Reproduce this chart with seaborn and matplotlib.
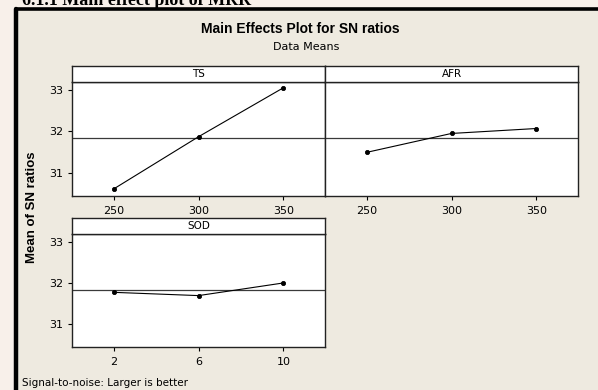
import matplotlib
matplotlib.use("Agg")
import matplotlib.pyplot as plt
from matplotlib.patches import Rectangle
import seaborn as sns

sns.set_style("white")
plt.rcParams["font.family"] = ["DejaVu Sans"]
plt.rcParams["text.color"] = "black"

# factor levels and mean S/N ratios
ts_levels = [250, 300, 350]
ts_sn = [30.60, 31.87, 33.06]
afr_levels = [250, 300, 350]
afr_sn = [31.49, 31.95, 32.07]
sod_levels = [2, 6, 10]
sod_sn = [31.77, 31.69, 32.00]

factors = ["TS", "AFR", "SOD"]
y_ticks = [31, 32, 33]
grand_mean = (sum(ts_sn) + sum(afr_sn) + sum(sod_sn)) / 9

W, H = 598, 390
bg = "#EEEAE0"

fig = plt.figure(figsize=(W / 100, H / 100), dpi=100)
fig.patch.set_facecolor("#f8f0ea")


def fx(px):
    return px / W


def fy(py):
    return 1 - py / H


# document frame (beige with black top/left border)
fig.patches.append(Rectangle((fx(15), 0), 1, fy(8.5), transform=fig.transFigure,
                             facecolor=bg, edgecolor="none", zorder=-5))
fig.add_artist(plt.Line2D([fx(15.5), 1], [fy(8.5), fy(8.5)], color="black",
                          lw=2.6, transform=fig.transFigure, zorder=-4))
fig.add_artist(plt.Line2D([fx(15.5), fx(15.5)], [0, fy(8.5)], color="black",
                          lw=3.2, transform=fig.transFigure, zorder=-4))

# heading of the document, mostly cut off at top
fig.text(fx(22), fy(5), "6.1.1 Main effect plot of MRR", family="Liberation Serif",
         weight="bold", fontsize=13, va="baseline", ha="left")

# panel boxes in pixel coords: (left, top, right, bottom)
panels = {
    "TS": (72, 82, 325, 196),
    "AFR": (325, 82, 578, 196),
    "SOD": (72, 234, 325, 347),
}
data = {
    "TS": (ts_levels, ts_sn),
    "AFR": (afr_levels, afr_sn),
    "SOD": (sod_levels, sod_sn),
}
strip_h = 16

for name in factors:
    l, t, r, b = panels[name]
    ax = fig.add_axes([fx(l), fy(b), (r - l) / W, (b - t) / H])
    levels, sn = data[name]
    sns.pointplot(x=levels, y=sn, ax=ax, color="black", markers="o",
                  markersize=3, linewidth=0.8, errorbar=None)
    ax.axhline(grand_mean, color="#3a3a3a", lw=0.9, zorder=0)
    ax.set_xlim(-0.49, 2.49)
    ax.set_ylim(30.43, 33.2)
    ax.set_facecolor("white")
    for s in ax.spines.values():
        s.set_color("#222222")
        s.set_linewidth(1.0)
    ax.tick_params(axis="both", direction="out", length=3, width=0.8,
                   colors="black", labelsize=8, pad=3)
    ax.tick_params(axis="x", pad=4)
    ax.tick_params(bottom=True)
    if name == "AFR":
        ax.set_yticks([])
    else:
        ax.set_yticks(y_ticks)
        ax.set_yticklabels([str(v) for v in y_ticks])
        ax.tick_params(left=True)
    ax.set_xlabel("")
    ax.set_ylabel("")
    ax.grid(False)

    # strip header
    sax = fig.add_axes([fx(l), fy(t), (r - l) / W, strip_h / H])
    sax.set_facecolor("white")
    sax.set_xticks([])
    sax.set_yticks([])
    for s in sax.spines.values():
        s.set_color("#222222")
        s.set_linewidth(1.0)
    sax.text(0.5, 0.5, name, ha="center", va="center", fontsize=7.5,
             transform=sax.transAxes)

fig.text(fx(300), fy(29), "Main Effects Plot for SN ratios", family="Liberation Sans",
         weight="bold", fontsize=10, ha="center", va="center")
fig.text(fx(306), fy(47), "Data Means", fontsize=8, ha="center", va="center")
fig.text(fx(32), fy(207), "Mean of SN ratios", family="Liberation Sans", weight="bold",
         fontsize=9.5, rotation=90, ha="center", va="center")
fig.text(fx(22), fy(383), "Signal-to-noise: Larger is better", fontsize=7.5,
         ha="left", va="center")

fig.savefig("out.png", dpi=100, facecolor=fig.get_facecolor())
